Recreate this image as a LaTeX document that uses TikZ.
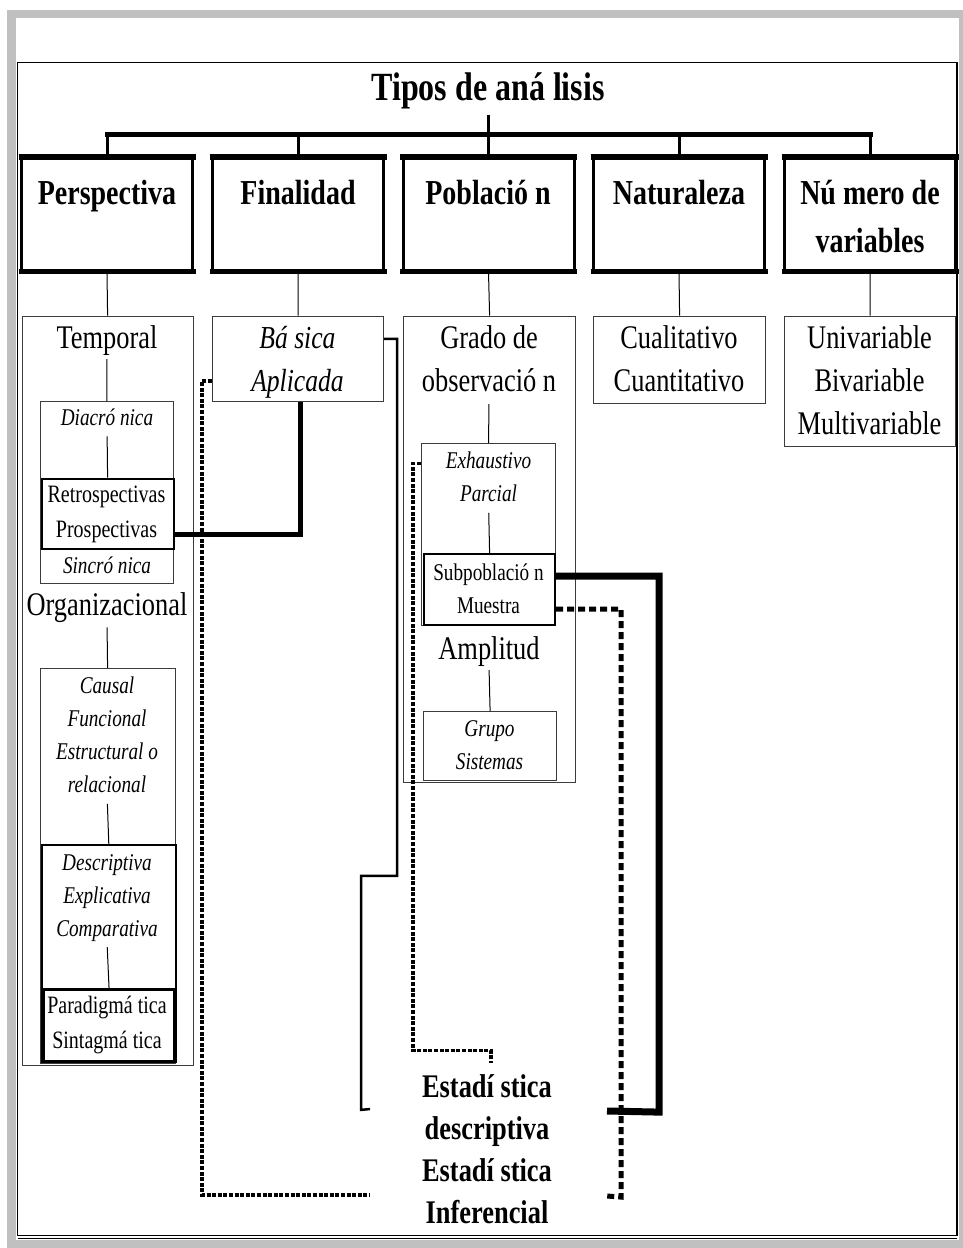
\documentclass[tikz,border=0pt]{standalone}
\usepackage{fontspec}
\setmainfont{Liberation Serif}[FakeStretch=0.8]
\usepackage{tikz}
\definecolor{framegray}{RGB}{192,192,192}
\definecolor{boxline}{RGB}{60,60,60}
\newcommand\fsTitle{\fontsize{40}{48}\selectfont\bfseries}
\newcommand\fsCat{\fontsize{35}{48}\selectfont\bfseries}
\newcommand\fsMain{\fontsize{33}{43}\selectfont}
\newcommand\fsMid{\fontsize{32}{43}\selectfont\itshape}
\newcommand\fsSmall{\fontsize{24}{33}\selectfont}
\newcommand\fsSmallr{\fontsize{25}{35}\selectfont}
\newcommand\fsEst{\fontsize{33}{42}\selectfont\bfseries}
\begin{document}
\begin{tikzpicture}[x=1pt,y=-1pt,
 txt/.style={inner sep=0pt,align=center},
 cat/.style={draw,line width=3pt,minimum width=171pt,minimum height=114pt,inner sep=0pt},
 grp/.style={draw=boxline,line width=1.2pt,inner sep=0pt,anchor=north west},
 sub/.style={draw,line width=2.2pt,inner sep=0pt,anchor=north west},
 stem/.style={line width=1pt},
 drop/.style={line width=3pt},
 dotthin/.style={line width=3.5pt,dash pattern=on 4pt off 1.6pt},
 dotthick/.style={line width=5pt,dash pattern=on 7pt off 4pt}]
\useasboundingbox (0,0) rectangle (963,1248);
\fill[framegray] (7,10) rectangle (963,1248);
\fill[white] (16,18) rectangle (959,1240);
\draw[line width=1.2pt] (17.5,62.5) rectangle (957,1235.5);
\draw[line width=0.8pt] (17.5,1238) -- (957,1238);

\node[txt,font=\fsTitle,anchor=base] (tit) at (488,100) {Tipos de aná lisis};

\node[cat] (per) at (107,213.5) {};
\node[cat] (fin) at (298,213.5) {};
\node[cat] (pob) at (488.5,213.5) {};
\node[cat] (nat) at (679,213.5) {};
\node[cat] (nvar) at (870,213.5) {};
\foreach \b in {per,fin,pob,nat,nvar}{
 \draw[line width=6pt,shorten <=-1.5pt,shorten >=-1.5pt] ([yshift=-2pt]\b.north west) -- ([yshift=-2pt]\b.north east);
 \draw[line width=4.5pt,shorten <=-1.5pt,shorten >=-1.5pt] ([yshift=0.7pt]\b.south west) -- ([yshift=0.7pt]\b.south east);
}
\node[txt,font=\fsCat,anchor=base] (perL) at (107,204) {Perspectiva};
\node[txt,font=\fsCat,anchor=base] (finL) at (298,204) {Finalidad};
\node[txt,font=\fsCat,anchor=base] (pobL) at (488,204) {Població n};
\node[txt,font=\fsCat,anchor=base] (natL) at (679,204) {Naturaleza};
\node[txt,font=\fsCat,anchor=north] (nvarL) at (870,180) {Nú mero de\\variables};

\coordinate (bar) at (488,134.5);
\draw[line width=5pt,line cap=rect] (per.north |- bar) -- (nvar.north |- bar);
\foreach \b in {per,fin,pob,nat,nvar}
 \draw[drop] (\b.north |- bar) -- (\b.north);
\draw[drop,shorten <=6pt] (tit.south) -- (bar);

\node[grp,minimum width=171pt,minimum height=749.5pt] (colP) at (21.5,315.5) {};
\draw[stem] (per.south) -- (colP.north);
\node[txt,font=\fsMain,anchor=base] (tmpL) at (107,348) {Temporal};
\node[grp,minimum width=133.5pt,minimum height=182pt] (diaB) at (39.5,401) {};
\draw[stem,shorten <=4pt] (tmpL.south) -- (diaB.north);
\node[txt,font=\fsSmall\itshape,anchor=base] (diaL) at (107,425) {Diacró nica};
\node[sub,minimum width=132pt,minimum height=70pt] (retB) at (40.5,477.5) {};
\draw[stem,shorten <=11pt] (diaL.south) -- (retB.north);
\node[txt,font=\fsSmallr,anchor=north] (retL) at (106.5,486) {Retrospectivas\\Prospectivas};
\node[txt,font=\fsSmall\itshape,anchor=base] (sinL) at (107,573) {Sincró nica};
\node[txt,font=\fsMain,anchor=base] (orgL) at (107,615) {Organizacional};
\node[grp,minimum width=135pt,minimum height=395pt] (cauB) at (39.5,668) {};
\draw[stem,shorten <=5pt] (orgL.south) -- (cauB.north);
\node[txt,font=\fsSmall\itshape,anchor=north] (cauL) at (107,676.6) {Causal\\Funcional\\Estructural o\\relacional};
\node[sub,line width=1.6pt,minimum width=134pt,minimum height=217pt] (desB) at (41,844) {};
\draw[stem,shorten <=11pt] (cauL.south) -- (desB.north);
\node[txt,font=\fsSmall\itshape,anchor=north] (desL) at (107,854.6) {Descriptiva\\Explicativa\\Comparativa};
\node[sub,line width=2.6pt,minimum width=130.5pt,minimum height=72pt] (parB) at (42.5,988) {};
\draw[stem,shorten <=5pt] (desL.south) -- (parB.north);
\node[txt,font=\fsSmallr,anchor=north] (parL) at (107,996) {Paradigmá tica\\Sintagmá tica};

\node[grp,minimum width=171pt,minimum height=85.5pt] (basB) at (212,315.5) {};
\draw[stem] (fin.south) -- (basB.north);
\node[txt,font=\fsMid,anchor=north] (basL) at (297.5,326) {Bá sica\\Aplicada};

\node[grp,minimum width=172pt,minimum height=466.5pt] (colPo) at (403,315.5) {};
\draw[stem] (pob.south) -- (colPo.north);
\node[txt,font=\fsMain,anchor=north] (graL) at (489,325.5) {Grado de\\observació n};
\node[grp,minimum width=134pt,minimum height=182pt] (exhB) at (421,443) {};
\draw[stem,shorten <=12pt] (graL.south) -- (exhB.north);
\node[txt,font=\fsSmall\itshape,anchor=north] (exhL) at (488.5,451.6) {Exhaustivo\\Parcial};
\node[sub,minimum width=131pt,minimum height=71pt] (subB) at (423,553) {};
\draw[stem,shorten <=11pt] (exhL.south) -- (subB.north);
\node[txt,font=\fsSmall,anchor=north] (subL) at (488.5,563.6) {Subpoblació n\\Muestra};
\node[txt,font=\fsMain,anchor=base] (ampL) at (489,659) {Amplitud};
\node[grp,minimum width=133pt,minimum height=69pt] (gruB) at (423,711) {};
\draw[stem,shorten <=4pt] (ampL.south) -- (gruB.north);
\node[txt,font=\fsSmall\itshape,anchor=north] (gruL) at (489.5,720.6) {Grupo\\Sistemas};

\node[grp,minimum width=172pt,minimum height=87.5pt] (cuaB) at (593,315.5) {};
\draw[stem] (nat.south) -- (cuaB.north);
\node[txt,font=\fsMain,anchor=north] (cuaL) at (679,325.5) {Cualitativo\\Cuantitativo};

\node[grp,minimum width=171pt,minimum height=130.5pt] (uniB) at (784,315.5) {};
\draw[stem] (nvar.south) -- (uniB.north);
\node[txt,font=\fsMain,anchor=north] (uniL) at (869.5,325.5) {Univariable\\Bivariable\\Multivariable};

\node[txt,font=\fsEst,anchor=north] (estL) at (487,1074.5) {Estadí stica\\descriptiva\\Estadí stica\\Inferencial};
\coordinate (inS) at (370,1109);
\coordinate (inD) at (370,1195);
\coordinate (inE) at (491,1063);
\coordinate (inT) at (607,1111);
\coordinate (inF) at (607,1196);

\draw[line width=5pt] ([xshift=2.5pt]basB.south) |- ([yshift=-20.5pt]retB.east);
\draw[dotthin] ([yshift=-22pt]basB.west) -- ++(-10,0) |- (inD);
\draw[line width=2.5pt] ([yshift=20pt]basB.east) -| ++(13,537) -| ++(-36,234) -- (inS);
\draw[dotthin] ([yshift=71pt]exhB.west) -| ++(-8,587) -| (inE);
\draw[line width=7pt] ([yshift=13.5pt]subB.east) -| ++(103,536) -- (inT);
\draw[dotthick] ([yshift=-19.5pt]subB.east) -| ++(65,588) -- (inF);
\end{tikzpicture}
\end{document}
